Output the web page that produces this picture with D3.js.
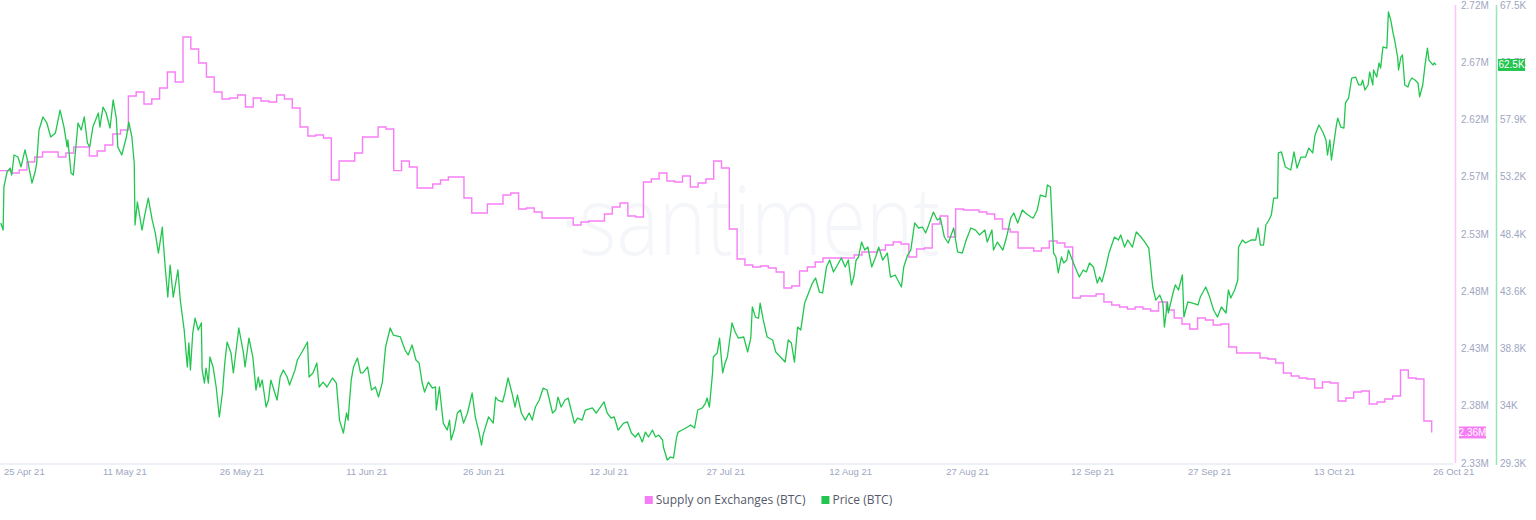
<!DOCTYPE html>
<html>
<head>
<meta charset="utf-8">
<script src="https://cdnjs.cloudflare.com/ajax/libs/d3/7.8.5/d3.min.js"></script>
<style>
  body { margin: 0; background: #fff; }
  svg { display: block; }
</style>
</head>
<body>
<div id="chart"></div>
<script>
// day 0 = 25 Apr 2021, last day = 26 Oct 2021
const startDate = new Date(Date.UTC(2021, 3, 25));
const dayCount = 184;

// Supply on Exchanges (BTC), millions, one value per day
const supply = [
  2.579, 2.579, 2.577, 2.5795, 2.5863, 2.5906, 2.5948, 2.5948, 2.5906, 2.594,
  2.5991, 2.5991, 2.5914, 2.5957, 2.6008, 2.6102, 2.6136, 2.6425, 2.6459, 2.6357,
  2.64, 2.6493, 2.663, 2.6544, 2.6928, 2.6825, 2.6706, 2.6587, 2.6459, 2.64,
  2.6408, 2.6434, 2.6331, 2.6408, 2.6383, 2.6374, 2.6434, 2.64, 2.6323, 2.6161,
  2.6085, 2.6093, 2.6067, 2.571, 2.5872, 2.5872, 2.594, 2.6076, 2.6076, 2.6161,
  2.6144, 2.579, 2.5872, 2.5821, 2.5642, 2.5642, 2.5676, 2.571, 2.5735, 2.5735,
  2.5557, 2.5429, 2.5429, 2.5506, 2.5506, 2.5582, 2.5599, 2.5463, 2.5471, 2.5437,
  2.5386, 2.5386, 2.5386, 2.5386, 2.5327, 2.5352, 2.5361, 2.5361, 2.542, 2.548,
  2.5514, 2.5403, 2.5395, 2.5693, 2.5718, 2.577, 2.5701, 2.5693, 2.5744, 2.565,
  2.5684, 2.5718, 2.5872, 2.5812, 2.5293, 2.5037, 2.4986, 2.4969, 2.4978, 2.4961,
  2.4927, 2.479, 2.4807, 2.4935, 2.4969, 2.5012, 2.5046, 2.5046, 2.5046, 2.5046,
  2.5071, 2.5097, 2.5097, 2.5114, 2.5156, 2.5182, 2.5165, 2.5054, 2.5122, 2.5131,
  2.5335, 2.5403, 2.5225, 2.5463, 2.5454, 2.5454, 2.5437, 2.542, 2.5378, 2.5293,
  2.5267, 2.5131, 2.5131, 2.5105, 2.5131, 2.519, 2.5173, 2.5139, 2.4705, 2.4722,
  2.4722, 2.4739, 2.4671, 2.4646, 2.4628, 2.4611, 2.4628, 2.4611, 2.4594, 2.4671,
  2.4603, 2.4535, 2.4484, 2.4441, 2.4535, 2.4518, 2.4475, 2.4484, 2.4288, 2.4237,
  2.4237, 2.4237, 2.4194, 2.4186, 2.4152, 2.4066, 2.4041, 2.4024, 2.4015, 2.3939,
  2.399, 2.3981, 2.3828, 2.3854, 2.3905, 2.3913, 2.3803, 2.382, 2.3845, 2.3871,
  2.4092, 2.4024, 2.4015, 2.3658, 2.356
];

// Price (BTC), [day offset, thousands USD]
const price = [
  [0.1,49.32],[0.4,48.73],[0.5,52.32],[0.9,53.57],[1.3,53.9],[1.5,53.32],[1.8,54.99],[2.3,54.82],[2.7,53.99],[3.2,55.41],
  [3.6,54.32],[4.1,52.65],[4.5,53.57],[4.7,54.32],[5.0,57.07],[5.5,58.16],[6.0,57.66],[6.5,56.49],[7.1,56.82],[7.7,58.74],
  [8.2,57.32],[8.6,55.66],[8.7,56.24],[9.1,53.49],[9.4,53.32],[9.6,54.82],[10.0,57.66],[10.4,57.07],[10.8,58.16],[11.2,55.99],
  [11.5,55.66],[11.9,57.32],[12.6,58.49],[12.8,57.32],[13.2,58.99],[13.6,58.49],[14.1,57.24],[14.5,59.58],[14.9,58.07],[15.1,55.66],
  [15.6,54.99],[16.2,56.49],[16.5,57.74],[16.9,56.49],[17.2,54.32],[17.3,49.15],[17.6,51.07],[18.2,48.73],[18.5,49.82],[19.0,51.4],
  [19.5,49.57],[19.9,48.48],[20.3,46.81],[20.8,48.98],[20.9,47.9],[21.2,45.4],[21.5,43.14],[21.8,45.81],[22.2,43.14],[22.8,45.4],
  [23.1,42.89],[23.6,40.39],[24.0,37.31],[24.2,39.31],[24.4,37.06],[24.7,40.14],[25.0,41.39],[25.4,40.39],[25.8,40.98],[25.9,37.06],
  [26.2,35.97],[26.4,37.22],[26.7,35.97],[26.9,38.14],[27.3,37.31],[27.7,35.64],[28.1,33.14],[28.5,35.14],[28.8,37.64],[29.1,39.39],
  [29.6,38.47],[29.9,36.81],[30.1,37.89],[30.6,40.56],[31.2,38.47],[31.4,37.31],[31.9,39.72],[32.4,38.14],[32.8,35.39],[33.1,36.47],
  [33.3,35.64],[33.6,36.22],[34.1,33.97],[34.4,34.55],[34.7,36.22],[35.5,34.55],[35.9,36.47],[36.3,37.06],[36.8,36.47],[37.1,35.8],
  [37.8,37.06],[38.1,37.89],[38.7,38.56],[39.4,39.39],[39.6,36.47],[40.1,36.81],[40.6,37.64],[40.9,35.64],[41.4,36.05],[41.9,35.64],
  [42.6,36.39],[43.1,35.97],[43.5,32.88],[44.0,31.8],[44.4,33.47],[44.6,32.88],[45.0,36.22],[45.3,37.31],[45.8,38.06],[46.2,36.81],
  [46.5,36.81],[47.1,37.31],[47.6,35.39],[48.1,35.64],[48.5,34.8],[49.0,36.05],[49.4,38.97],[50.0,40.56],[50.4,39.97],[51.3,39.81],
  [51.9,38.72],[52.3,38.31],[52.8,39.14],[53.3,37.89],[53.7,37.64],[54.1,35.97],[54.4,35.22],[54.9,36.05],[55.4,35.55],[55.8,35.64],
  [55.9,33.72],[56.3,35.64],[56.8,32.63],[57.3,32.05],[57.6,32.88],[57.8,31.22],[58.2,32.05],[58.6,33.47],[59.0,33.72],[59.4,32.63],
  [59.9,33.47],[60.5,35.14],[60.9,33.14],[61.4,31.8],[61.7,30.8],[61.9,31.63],[62.6,33.14],[63.2,32.63],[63.5,34.8],[63.8,34.55],
  [64.4,34.39],[64.7,35.14],[65.1,36.39],[65.6,35.14],[66.0,33.97],[66.3,34.97],[66.8,33.47],[67.3,32.88],[67.8,33.47],[68.2,32.88],
  [68.6,33.97],[69.1,34.55],[69.6,35.55],[70.1,35.39],[70.8,33.47],[71.2,33.72],[71.5,34.8],[71.9,33.97],[72.4,34.55],[72.8,34.72],
  [73.6,32.63],[74.0,33.05],[74.6,32.88],[75.0,33.72],[75.9,33.89],[76.4,33.47],[77.4,34.39],[77.8,33.47],[78.3,33.05],[78.7,33.14],
  [79.2,32.05],[79.9,32.63],[80.4,32.72],[80.9,31.8],[81.4,31.47],[81.8,31.8],[82.3,31.05],[82.7,31.88],[83.1,31.47],[83.6,32.05],
  [84.0,31.47],[84.4,31.63],[84.9,31.22],[85.0,30.63],[85.5,29.55],[85.9,29.8],[86.3,29.72],[86.7,31.47],[86.9,31.88],[87.4,32.05],
  [88.1,32.3],[88.5,32.47],[89.0,32.22],[89.4,33.72],[90.0,33.89],[90.4,34.3],[90.6,34.72],[90.9,33.97],[91.3,36.81],[91.4,38.14],
  [91.9,38.47],[92.2,39.72],[92.6,36.81],[92.9,37.64],[93.2,38.14],[93.5,39.56],[93.8,40.98],[94.2,40.23],[94.6,39.72],[95.3,39.81],
  [95.8,38.56],[96.2,39.72],[96.4,42.31],[96.8,41.47],[97.2,41.39],[97.4,42.64],[97.8,41.23],[98.3,39.81],[99.0,39.56],[99.4,38.56],
  [100.0,38.14],[100.6,37.72],[101.0,39.56],[101.4,39.31],[101.8,37.72],[102.2,40.64],[102.6,40.39],[103.1,42.64],[103.6,43.48],[104.1,44.31],
  [104.5,44.73],[105.0,43.56],[105.4,43.48],[105.9,45.65],[106.3,46.23],[106.8,45.23],[107.3,45.81],[107.8,46.4],[108.3,45.65],[108.7,46.23],
  [109.1,44.15],[109.4,44.81],[109.7,46.23],[110.0,46.48],[110.4,47.73],[110.8,47.06],[111.2,47.31],[111.7,45.65],[112.2,46.48],[112.6,47.31],
  [113.1,46.23],[113.7,46.81],[114.1,44.81],[114.7,44.98],[115.5,43.98],[115.8,45.65],[116.3,46.65],[116.7,47.06],[117.2,49.32],[117.7,48.9],
  [118.2,48.98],[118.6,48.48],[119.0,49.15],[119.6,50.23],[120.1,49.57],[120.5,49.73],[121.0,48.15],[121.5,47.65],[122.2,48.9],[122.7,46.9],
  [123.3,46.81],[123.8,47.9],[124.4,48.9],[125.0,48.73],[125.5,48.32],[126.2,48.73],[126.5,47.73],[127.1,48.73],[127.3,47.06],[127.8,47.73],
  [128.5,47.06],[128.8,47.73],[129.1,48.48],[129.5,49.73],[129.9,50.15],[130.4,49.32],[131.0,50.4],[131.4,50.15],[132.1,49.82],[132.4,49.73],
  [132.9,50.4],[133.3,51.65],[134.0,51.49],[134.2,52.49],[134.6,52.32],[135.0,46.81],[135.3,46.48],[135.6,45.15],[136.0,46.48],[136.3,45.98],
  [136.7,46.23],[136.9,47.06],[137.4,46.23],[137.8,45.56],[138.3,44.81],[138.8,45.4],[139.2,45.23],[139.6,45.98],[140.1,45.65],[140.6,44.31],
  [140.9,44.81],[141.2,44.4],[141.7,45.65],[142.1,46.81],[142.8,48.15],[143.3,47.9],[143.6,48.32],[144.1,47.31],[144.5,47.9],[145.1,47.31],
  [145.6,48.57],[146.2,48.15],[146.7,47.73],[147.2,47.23],[147.7,43.98],[148.1,42.89],[148.6,43.31],[149.0,42.64],[149.2,40.64],[149.6,42.73],
  [149.7,41.81],[150.3,43.48],[150.6,44.15],[151.0,43.73],[151.5,44.98],[151.7,41.48],[152.2,42.73],[152.8,42.64],[153.5,42.48],[153.8,43.14],
  [154.5,43.98],[155.0,43.14],[155.5,42.06],[156.0,41.48],[156.5,42.31],[157.1,41.81],[157.4,43.73],[157.7,43.06],[158.2,43.73],[158.6,44.56],
  [158.7,47.31],[159.2,47.9],[159.6,47.65],[160.3,47.9],[160.9,47.9],[161.2,48.9],[161.5,47.48],[161.9,47.48],[162.2,49.15],[162.6,49.57],
  [162.9,49.98],[163.2,51.4],[163.7,51.4],[163.8,55.16],[164.2,55.24],[164.7,53.99],[165.4,53.74],[165.8,55.24],[166.2,53.9],[166.7,54.82],
  [167.3,54.82],[167.7,55.57],[168.2,55.16],[168.5,56.66],[169.0,57.49],[169.5,56.91],[169.9,56.24],[170.1,54.99],[170.4,56.24],[170.6,54.57],
  [171.2,57.32],[171.4,58.07],[171.8,57.32],[172.2,57.24],[172.4,59.33],[172.8,59.74],[173.2,61.41],[173.7,61.49],[174.1,60.83],[174.4,60.83],
  [174.6,61.24],[174.9,60.41],[175.3,60.83],[175.5,61.91],[175.9,60.83],[176.0,62.08],[176.4,61.49],[176.7,62.66],[176.9,62.24],[177.2,64.0],
  [177.7,63.91],[177.9,66.92],[178.2,66.25],[178.5,65.16],[178.7,64.58],[179.1,63.08],[179.2,62.08],[179.5,63.16],[179.7,63.33],[180.0,60.83],
  [180.4,60.66],[180.6,61.08],[180.9,61.41],[181.3,61.24],[181.7,60.99],[181.9,59.83],[182.3,60.83],[182.6,62.5],[182.9,63.91],[183.1,62.91],
  [183.3,62.74],[183.6,62.5],[183.8,62.66],[184.0,62.5]
];

const xTickDates = ["2021-04-25","2021-05-11","2021-05-26","2021-06-11","2021-06-26","2021-07-12","2021-07-27",
                    "2021-08-12","2021-08-27","2021-09-12","2021-09-27","2021-10-13","2021-10-26"];
const supplyDomain = [2.33, 2.72];
const priceDomain = [29.3, 67.5];
const supplyTickLabels = ["2.33M","2.38M","2.43M","2.48M","2.53M","2.57M","2.62M","2.67M","2.72M"];
const priceTickLabels = ["29.3K","34K","38.8K","43.6K","48.4K","53.2K","57.9K","62.7K","67.5K"];
const legendItems = ["Supply on Exchanges (BTC)", "Price (BTC)"];

const pink = "#f77df6";
const green = "#22c64f";
const tickColor = "#9ea6bf";

const width = 1536, height = 520;
const plot = { left: 0, right: 1453, top: 5, bottom: 463, dataRight: 1436 };

const dayMs = 864e5;
const toDate = d => new Date(startDate.getTime() + d * dayMs);

const x = d3.scaleUtc()
  .domain([startDate, toDate(dayCount)])
  .range([plot.left, plot.dataRight]);

const ySupply = d3.scaleLinear().domain(supplyDomain).range([plot.bottom, plot.top]);
const yPrice = d3.scaleLinear().domain(priceDomain).range([plot.bottom, plot.top]);

const svg = d3.select("#chart").append("svg")
  .attr("width", width)
  .attr("height", height)
  .style("font-family", "'Liberation Sans', Arial, sans-serif");

svg.append("defs").append("clipPath").attr("id", "clip")
  .append("rect")
  .attr("x", plot.left).attr("y", 0)
  .attr("width", plot.right - plot.left).attr("height", plot.bottom + 2);

// watermark
svg.append("text")
  .attr("x", 560).attr("y", 255)
  .attr("textLength", 380)
  .attr("lengthAdjust", "spacingAndGlyphs")
  .style("font-family", "'Open Sans', sans-serif")
  .style("font-weight", 300)
  .style("font-size", "96px")
  .style("fill", "#f5f6fa")
  .text("·santiment");

// bottom border
svg.append("line")
  .attr("x1", plot.left).attr("x2", plot.right)
  .attr("y1", plot.bottom + 1).attr("y2", plot.bottom + 1)
  .style("stroke", "#edf0f6").style("stroke-width", 2);

// x labels
const xg = svg.append("g").attr("class", "x axis");
xTickDates.forEach((s, i) => {
  const d = new Date(s + "T00:00:00Z");
  let px = x(d), anchor = "middle";
  if (i === 0) { px = px + 4; anchor = "start"; }
  if (i === xTickDates.length - 1) { px = px - 3; anchor = "start"; }
  xg.append("text")
    .attr("x", px).attr("y", 472)
    .attr("dy", "0.35em")
    .attr("text-anchor", anchor)
    .style("font-size", "9.5px")
    .style("fill", tickColor)
    .text(d3.utcFormat("%d %b %y")(d));
});

// right axes
const splitTicks = dom => d3.range(9).map(i => dom[0] + i * (dom[1] - dom[0]) / 8);

svg.append("line")
  .attr("x1", 1455.5).attr("x2", 1455.5)
  .attr("y1", plot.top).attr("y2", plot.bottom)
  .style("stroke", pink).style("stroke-opacity", 0.45).style("stroke-width", 1.5);

svg.append("line")
  .attr("x1", 1496.5).attr("x2", 1496.5)
  .attr("y1", plot.top).attr("y2", plot.bottom + 2)
  .style("stroke", green).style("stroke-opacity", 0.45).style("stroke-width", 1.5);

svg.append("g").selectAll("text")
  .data(splitTicks(supplyDomain))
  .join("text")
  .attr("x", 1461).attr("y", d => ySupply(d))
  .attr("dy", "0.35em")
  .style("font-size", "10px")
  .style("fill", tickColor)
  .text((d, i) => supplyTickLabels[i]);

svg.append("g").selectAll("text")
  .data(splitTicks(priceDomain))
  .join("text")
  .attr("x", 1500).attr("y", d => yPrice(d))
  .attr("dy", "0.35em")
  .style("font-size", "10px")
  .style("fill", tickColor)
  .text((d, i) => priceTickLabels[i]);

// lines
const supplyLine = d3.line()
  .x((d, i) => x(toDate(i - 0.55)))
  .y(d => ySupply(d))
  .curve(d3.curveStepAfter);

const priceLine = d3.line()
  .x(d => x(toDate(d[0])))
  .y(d => yPrice(d[1]));

const lines = svg.append("g").attr("clip-path", "url(#clip)");

lines.append("path")
  .datum(supply)
  .attr("class", "line line0")
  .style("fill", "none")
  .style("stroke", pink)
  .style("stroke-width", 1.4)
  .attr("d", supplyLine);

lines.append("path")
  .datum(price)
  .attr("class", "line line1")
  .style("fill", "none")
  .style("stroke", green)
  .style("stroke-width", 1.3)
  .style("stroke-linejoin", "round")
  .attr("d", priceLine);

// last value badges
const badge = (px, py, w, color, label) => {
  svg.append("rect")
    .attr("x", px).attr("y", py - 6)
    .attr("width", w).attr("height", 12)
    .style("fill", color);
  svg.append("text")
    .attr("x", px + w / 2).attr("y", py)
    .attr("dy", "0.35em")
    .attr("text-anchor", "middle")
    .style("font-size", "10px")
    .style("fill", "#fff")
    .text(label);
};

const lastSupply = supply[supply.length - 1];
const lastPrice = price[price.length - 1][1];
badge(1459, ySupply(lastSupply), 27, pink, lastSupply.toFixed(2) + "M");
badge(1498, yPrice(lastPrice), 27, green, lastPrice.toFixed(1) + "K");

// legend, laid out from measured text widths and centred under the plot
const legend = svg.append("g")
  .style("font-family", "'Open Sans', sans-serif")
  .style("font-size", "12px");

const items = legend.selectAll("g")
  .data(legendItems)
  .join("g");

items.append("rect")
  .attr("x", 0).attr("y", -4)
  .attr("width", 8).attr("height", 8)
  .style("fill", (d, i) => i === 0 ? pink : green);

items.append("text")
  .attr("x", 11).attr("dy", "0.35em")
  .style("fill", "#555a6b")
  .text(d => d);

let offset = 0;
const widths = [];
items.each(function() {
  const w = 11 + this.querySelector("text").getComputedTextLength();
  widths.push(w);
});
const total = d3.sum(widths) + 16 * (widths.length - 1);
const legendLeft = 768.5 - total / 2;
items.attr("transform", (d, i) => {
  const t = "translate(" + (legendLeft + offset) + ",500)";
  offset += widths[i] + 16;
  return t;
});
</script>
</body>
</html>
